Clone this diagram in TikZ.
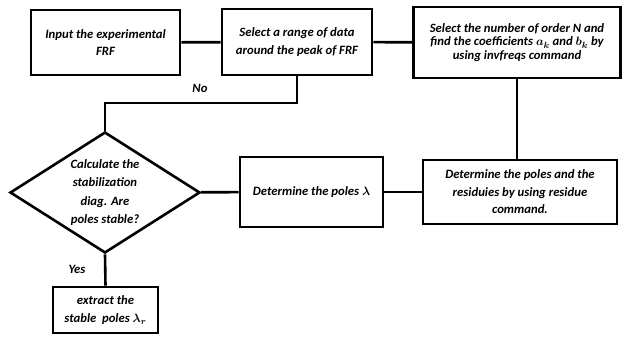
\documentclass[tikz,border=0pt]{standalone}
\usepackage{fontspec}
\setmainfont{Carlito}
\usepackage{bm}
\usetikzlibrary{shapes.geometric}
\tikzset{
  boite/.style={draw, line width=2.6pt, rectangle, inner sep=2pt, align=center,
    font=\bfseries\itshape\fontsize{12.7}{17.5}\selectfont},
  losange/.style={draw, line width=2.6pt, diamond, aspect=1.57, inner sep=0pt, align=center,
    font=\bfseries\itshape\fontsize{12.7}{18.3}\selectfont},
  lien/.style={line width=2.6pt},
  etiq/.style={font=\bfseries\itshape\fontsize{12.7}{14}\selectfont}
}
\begin{document}
\begin{tikzpicture}[x=1pt,y=-1pt]
    \useasboundingbox (0,0) rectangle (623,337);
    % les boites du haut
    \node[boite, minimum width=149pt, minimum height=65pt] (input) at (105.5,42.5) {Input the experimental\\FRF};
    \node[boite, minimum width=150pt, minimum height=66pt] (range) at (297,42) {Select a range of data\\around the peak of FRF};
    \node[boite, minimum width=207pt, minimum height=71pt, font=\bfseries\itshape\fontsize{12.7}{13.5}\selectfont] (order) at (517,42.5)
        {Select the number of order N and\\find the coefficients $\bm{a_k}$ and $\bm{b_k}$ by\\using invfreqs command};
    % les boites du milieu
    \node[boite, minimum width=194pt, minimum height=64pt] (resid) at (520,192) {Determine the poles and the\\residuies by using residue\\command.};
    \node[boite, minimum width=143pt, minimum height=70pt] (poles) at (311.5,192) {Determine the poles $\bm{\lambda}$};
    \node[losange, minimum width=190pt, minimum height=121pt] (calc) at (105,192.5) {Calculate the\\stabilization\\diag. Are\\poles stable?};
    % la boite du bas
    \node[boite, minimum width=105pt, minimum height=46pt] (extr) at (105.5,310) {extract the\\stable\ \ poles $\bm{\lambda_r}$};
    % les liens
    \coordinate (coude) at (297,103);
    \draw[lien] (input) -- (range);
    \draw[lien] (range) -- (order);
    \draw[lien] (range.south) -- (coude) -| (calc.north);
    \draw[lien] (order.south) -- (order.south |- resid.north);
    \draw[lien] (resid) -- (poles);
    \draw[lien] (poles) -- (calc);
    \draw[lien] (calc.south) -- (extr.north);
    \node[etiq] (no) at (200,88) {No};
    \node[etiq] (yes) at (77,269) {Yes};
\end{tikzpicture}
\end{document}
